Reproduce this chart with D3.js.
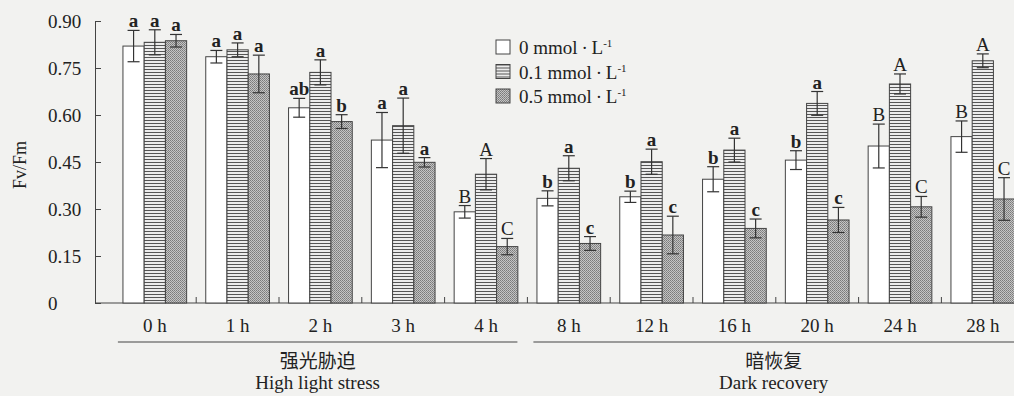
<!DOCTYPE html>
<html lang="en">
<head>
<meta charset="utf-8">
<title>Fv/Fm</title>
<script src="https://cdn.jsdelivr.net/npm/d3@7"></script>
<style>
  html, body { margin: 0; padding: 0; background: #f2f2f0; }
  svg { display: block; }
  text { font-family: "Liberation Serif", "Times New Roman", Times, "DejaVu Serif", serif; fill: #222; }
  text.cjk { font-family: "Noto Sans CJK SC", sans-serif; }
</style>
</head>
<body>
<div id="chart"></div>
<script>
// categories and values
let categories = ['0 h', '1 h', '2 h', '3 h', '4 h', '8 h', '12 h', '16 h', '20 h', '24 h', '28 h'];
let mean_0  = [0.820, 0.786, 0.623, 0.520, 0.291, 0.334, 0.339, 0.395, 0.456, 0.501, 0.531];
let sd_0    = [0.050, 0.020, 0.030, 0.088, 0.020, 0.024, 0.018, 0.040, 0.030, 0.070, 0.050];
let mean_01 = [0.832, 0.808, 0.736, 0.566, 0.411, 0.430, 0.451, 0.488, 0.637, 0.699, 0.773];
let sd_01   = [0.040, 0.022, 0.040, 0.088, 0.050, 0.040, 0.040, 0.038, 0.038, 0.032, 0.022];
let mean_05 = [0.837, 0.731, 0.579, 0.449, 0.180, 0.190, 0.217, 0.238, 0.265, 0.307, 0.332];
let sd_05   = [0.020, 0.060, 0.022, 0.015, 0.026, 0.022, 0.060, 0.030, 0.040, 0.033, 0.068];
let letters_0  = ['a', 'a', 'ab', 'a', 'B', 'b', 'b', 'b', 'b', 'B', 'B'];
let letters_01 = ['a', 'a', 'a', 'a', 'A', 'a', 'a', 'a', 'a', 'A', 'A'];
let letters_05 = ['a', 'a', 'b', 'a', 'C', 'c', 'c', 'c', 'c', 'C', 'C'];
let series = ['0', '0.1', '0.5'];
let yTicks = [0, 0.15, 0.30, 0.45, 0.60, 0.75, 0.90];
let phases = [
  { cn: '强光胁迫', en: 'High light stress', from: '0 h', to: '4 h' },
  { cn: '暗恢复', en: 'Dark recovery', from: '8 h', to: '28 h' }
];

let width = 1014, height = 396;
let svg = d3.select('#chart').append('svg')
  .attr('width', width)
  .attr('height', height)

// fill patterns
let defs = svg.append('defs')
let hatch = defs.append('pattern')
  .attr('id', 'hatch').attr('patternUnits', 'userSpaceOnUse')
  .attr('width', 4).attr('height', 3)
hatch.append('rect').attr('width', 4).attr('height', 3).attr('fill', '#ececec')
hatch.append('line').attr('x1', 0).attr('x2', 4).attr('y1', 0.5).attr('y2', 0.5)
  .attr('stroke', '#555').attr('stroke-width', 1)
let grey = defs.append('pattern')
  .attr('id', 'grey').attr('patternUnits', 'userSpaceOnUse')
  .attr('width', 2).attr('height', 2)
grey.append('rect').attr('width', 2).attr('height', 2).attr('fill', '#c4c4c4')
grey.append('rect').attr('width', 1).attr('height', 1).attr('fill', '#7a7a7a')
grey.append('rect').attr('x', 1).attr('y', 1).attr('width', 1).attr('height', 1).attr('fill', '#8a8a8a')

let fills = ['#ffffff', 'url(#hatch)', 'url(#grey)'];

let axisX = 95, baseY = 303, topY = 21;

let scale_y = d3.scaleLinear()
  .domain([0, 0.9])
  .range([baseY, topY])

let scale_x = d3.scaleBand()
  .domain(categories)
  .range([113.4, 113.4 + 82.8 * categories.length])
  .padding(0)

let scale_s = d3.scaleBand()
  .domain(series)
  .range([0, scale_x.bandwidth()])
  .paddingInner(0)
  .paddingOuter(0.45)

// y axis
let yAxis = svg.append('g')
  .attr('transform', `translate(${axisX},0)`)
  .call(d3.axisLeft(scale_y)
    .tickValues(yTicks)
    .tickSizeInner(-6)
    .tickSizeOuter(0)
    .tickFormat((d) => d === 0 ? '0' : d3.format('.2f')(d)))
yAxis.attr('font-family', null).attr('font-size', null)
yAxis.select('.domain').attr('stroke', '#444')
yAxis.selectAll('.tick line').attr('stroke', '#444')
yAxis.selectAll('.tick text')
  .attr('x', 48 - axisX)
  .attr('text-anchor', 'start')
  .attr('font-size', '19px')
  .attr('fill', '#222')

svg.append('text')
  .attr('transform', 'translate(26,165) rotate(-90)')
  .attr('text-anchor', 'middle')
  .attr('font-size', '18px')
  .text('Fv/Fm')

// x baseline and group separator ticks
svg.append('line')
  .attr('x1', axisX).attr('x2', width)
  .attr('y1', baseY).attr('y2', baseY)
  .attr('stroke', '#444')
svg.selectAll('.sep')
  .data(categories.slice(1))
  .enter()
  .append('line')
  .attr('x1', (d) => scale_x(d)).attr('x2', (d) => scale_x(d))
  .attr('y1', baseY).attr('y2', baseY - 6)
  .attr('stroke', '#444')

svg.selectAll('.cat')
  .data(categories)
  .enter()
  .append('text')
  .attr('x', (d) => scale_x(d) + scale_x.bandwidth() / 2)
  .attr('y', 332)
  .attr('text-anchor', 'middle')
  .attr('font-size', '19px')
  .text((d) => d)

// bars
let means = [mean_0, mean_01, mean_05];
let sds = [sd_0, sd_01, sd_05];
let letters = [letters_0, letters_01, letters_05];
let rows = [];
categories.forEach((c, i) => {
  series.forEach((s, j) => {
    rows.push({ c: c, s: s, j: j, m: means[j][i], sd: sds[j][i], l: letters[j][i] });
  });
});

let bx = (d) => scale_x(d.c) + scale_s(d.s);
let bw = scale_s.bandwidth();

svg.selectAll('.bar')
  .data(rows)
  .enter()
  .append('rect')
  .attr('x', bx)
  .attr('y', (d) => scale_y(d.m))
  .attr('width', bw)
  .attr('height', (d) => baseY - scale_y(d.m))
  .attr('fill', (d) => fills[d.j])
  .attr('stroke', '#444')
  .attr('stroke-width', 1)

let err = svg.selectAll('.err')
  .data(rows)
  .enter()
  .append('g')
  .attr('stroke', '#333')
  .attr('stroke-width', 1.2)
err.append('line')
  .attr('x1', (d) => bx(d) + bw / 2).attr('x2', (d) => bx(d) + bw / 2)
  .attr('y1', (d) => scale_y(d.m + d.sd)).attr('y2', (d) => scale_y(d.m - d.sd))
err.append('line')
  .attr('x1', (d) => bx(d) + bw / 2 - 6).attr('x2', (d) => bx(d) + bw / 2 + 6)
  .attr('y1', (d) => scale_y(d.m + d.sd)).attr('y2', (d) => scale_y(d.m + d.sd))
err.append('line')
  .attr('x1', (d) => bx(d) + bw / 2 - 6).attr('x2', (d) => bx(d) + bw / 2 + 6)
  .attr('y1', (d) => scale_y(d.m - d.sd)).attr('y2', (d) => scale_y(d.m - d.sd))

svg.selectAll('.sig')
  .data(rows)
  .enter()
  .append('text')
  .attr('x', (d) => bx(d) + bw / 2)
  .attr('y', (d) => scale_y(d.m + d.sd) - 3)
  .attr('text-anchor', 'middle')
  .attr('font-size', '19px')
  .attr('font-weight', (d) => d.l === d.l.toLowerCase() ? 'bold' : 'normal')
  .text((d) => d.l)

// legend
let legend = svg.selectAll('.legend')
  .data(series)
  .enter()
  .append('g')
  .attr('transform', (d, i) => `translate(496,${40 + i * 24.5})`)
legend.append('rect')
  .attr('width', 14).attr('height', 14)
  .attr('fill', (d, i) => fills[i])
  .attr('stroke', '#444')
let lt = legend.append('text')
  .attr('x', 23).attr('y', 14)
  .attr('font-size', '19px')
lt.append('tspan').text((d) => d + ' mmol\u2009\u00b7\u2009L')
lt.append('tspan').attr('dy', -7).attr('font-size', '11px').text('-1')

// phase brackets under the axis
let phaseRange = (p) => {
  let x0 = scale_x(p.from) + (p.from === categories[0] ? 4.5 : 6);
  let x1 = Math.min(width, scale_x(p.to) + scale_x.bandwidth() - 10);
  return [x0, x1];
};
phases.forEach((p) => {
  let [x0, x1] = phaseRange(p);
  svg.append('line')
    .attr('x1', x0).attr('x2', x1)
    .attr('y1', 342).attr('y2', 342)
    .attr('stroke', '#444').attr('stroke-width', 1.2)
  svg.append('text')
    .attr('class', 'cjk')
    .attr('x', (x0 + x1) / 2).attr('y', 368)
    .attr('text-anchor', 'middle')
    .attr('font-size', '19px')
    .text(p.cn)
  svg.append('text')
    .attr('x', (x0 + x1) / 2).attr('y', 389)
    .attr('text-anchor', 'middle')
    .attr('font-size', '19px')
    .text(p.en)
});
</script>
</body>
</html>
